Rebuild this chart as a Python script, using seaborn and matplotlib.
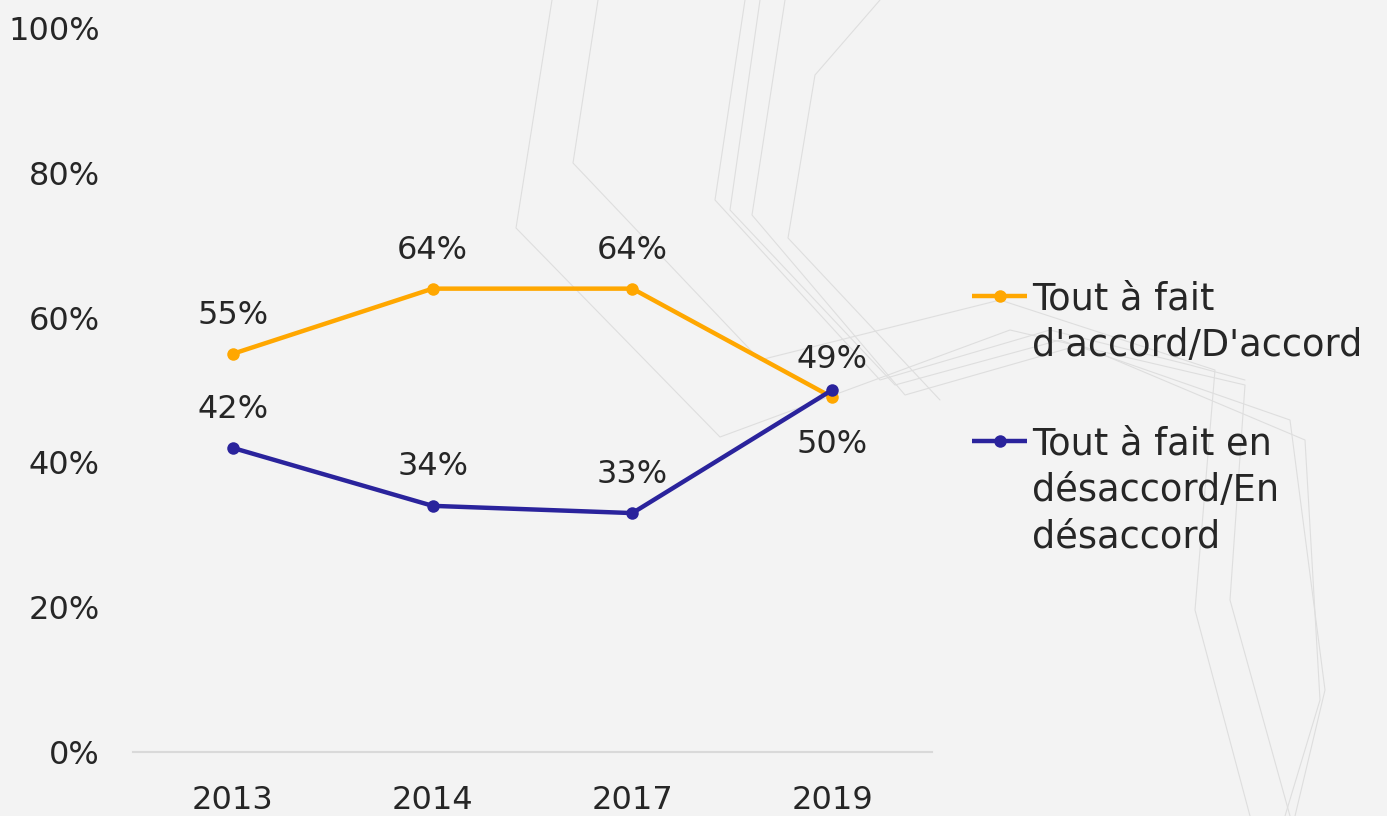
import matplotlib
matplotlib.use("Agg")
import matplotlib.pyplot as plt
from matplotlib.lines import Line2D
import seaborn as sns
import pandas as pd

# Survey results by year (share of respondents, %)
years = ["2013", "2014", "2017", "2019"]
accord = [55, 64, 64, 49]
desaccord = [42, 34, 33, 50]
series_names = ["Tout à fait d'accord/D'accord", "Tout à fait en désaccord/En désaccord"]
legend_labels = ["Tout à fait\nd'accord/D'accord", "Tout à fait en\ndésaccord/En\ndésaccord"]
y_ticks = [0, 20, 40, 60, 80, 100]

colors = ["#FFA700", "#2A239C"]
text_color = "#262626"
bg = "#F3F3F3"

W, H = 1387, 816

sns.set_theme(style="white")
plt.rcParams["font.family"] = ["DejaVu Sans"]

df = pd.DataFrame({
    "pos": list(range(len(years))) * 2,
    "value": accord + desaccord,
    "series": [series_names[0]] * len(years) + [series_names[1]] * len(years),
})

fig = plt.figure(figsize=(W / 100, H / 100), dpi=100, facecolor=bg)


def px(x, y):
    return x / W, 1 - y / H


# faint decorative background strokes
deco = [
    [(552, 0), (516, 228), (720, 437), (1010, 330), (1245, 385), (1230, 600), (1290, 816)],
    [(598, 0), (573, 163), (760, 360), (1000, 300), (1215, 370), (1195, 610), (1250, 816)],
    [(745, 0), (715, 200), (880, 380), (1050, 330), (1190, 365), (1245, 380)],
    [(760, 0), (730, 210), (895, 385), (1060, 340), (1290, 420), (1325, 690), (1295, 816)],
    [(785, 0), (752, 215), (905, 395), (1080, 345), (1305, 440), (1320, 700), (1285, 816)],
    [(880, 0), (815, 75), (788, 238), (940, 400)],
]
for poly in deco:
    xs, ys = zip(*[px(x, y) for x, y in poly])
    fig.add_artist(Line2D(xs, ys, transform=fig.transFigure, color="#DEDEDE",
                          lw=0.8, zorder=0))

ax = fig.add_axes([133 / W, 1 - 752 / H, (932 - 133) / W, (752 - 28) / H])
ax.set_facecolor("none")

sns.lineplot(data=df, x="pos", y="value", hue="series", hue_order=series_names,
             palette=colors, marker="o", markersize=9, markeredgewidth=0,
             linewidth=3.2, legend=False, sort=False, ax=ax)

ax.set_xlim(-0.5, len(years) - 0.5)
ax.set_ylim(0, 100)
ax.set_xticks(range(len(years)), years)
ax.set_yticks(y_ticks, [f"{v}%" for v in y_ticks])
ax.set_xlabel("")
ax.set_ylabel("")
ax.tick_params(axis="both", length=0, labelsize=23, colors=text_color)
ax.tick_params(axis="x", pad=24)
ax.tick_params(axis="y", pad=24)
for side in ["left", "right", "top"]:
    ax.spines[side].set_visible(False)
ax.spines["bottom"].set_color("#D9D9D9")
ax.spines["bottom"].set_linewidth(1.5)

# value labels
for i, v in enumerate(accord):
    ax.annotate(f"{v}%", (i, v), xytext=(0, 27.5), textcoords="offset points",
                ha="center", va="center", fontsize=23, color=text_color)
for i, v in enumerate(desaccord):
    off = -39.5 if i == len(years) - 1 else 28
    ax.annotate(f"{v}%", (i, v), xytext=(0, off), textcoords="offset points",
                ha="center", va="center", fontsize=23, color=text_color)

# legend
legend_rows = [(296, 280), (441, 425)]
for (hy, ty), lab, c in zip(legend_rows, legend_labels, colors):
    x0, y0 = px(972, hy)
    x1, _ = px(1027, hy)
    xm, _ = px(1000, hy)
    fig.add_artist(Line2D([x0, x1], [y0, y0], transform=fig.transFigure,
                          color=c, lw=3.2, solid_capstyle="butt"))
    fig.add_artist(Line2D([xm], [y0], transform=fig.transFigure, color=c,
                          marker="o", markersize=9, markeredgewidth=0))
    tx, tyf = px(1032, ty)
    fig.text(tx, tyf, lab, ha="left", va="top", fontsize=26.5,
             color=text_color, linespacing=1.33)

fig.savefig("out.png", dpi=100, facecolor=bg)
